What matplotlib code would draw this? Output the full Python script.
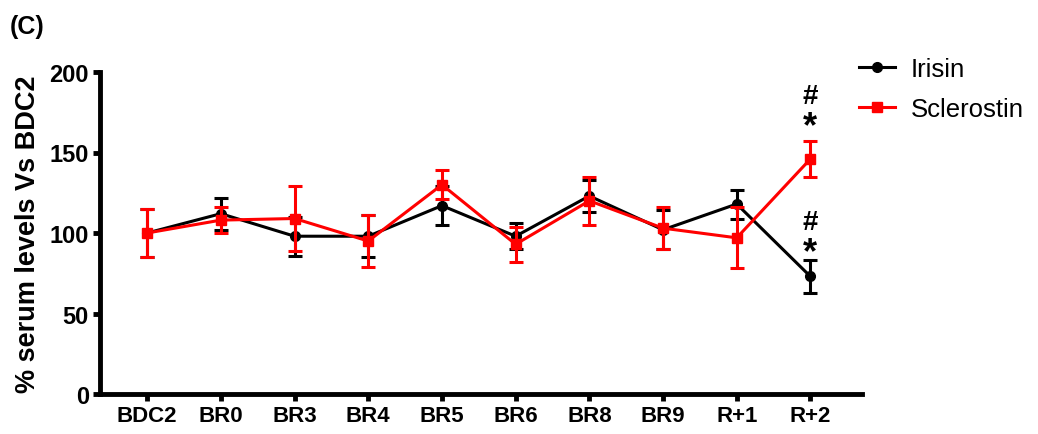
import numpy as np
import matplotlib
matplotlib.use('Agg')
import matplotlib.pyplot as plt
from matplotlib.lines import Line2D

plt.rcParams['font.family'] = ['Liberation Sans', 'DejaVu Sans']

days = ['BDC2', 'BR0', 'BR3', 'BR4', 'BR5', 'BR6', 'BR8', 'BR9', 'R+1', 'R+2']

irisin = [100, 112, 98, 98, 117, 98, 123, 102, 118, 73]
irisin_err = [15, 10, 12, 13, 12, 8, 10, 12, 9, 10]

scler = [100, 108, 109, 95, 130, 93, 120, 103, 97, 146]
scler_err = [15, 8, 20, 16, 9, 11, 15, 13, 19, 11]

# significance marks over R+2 (text, y position, size)
marks = [('#', 185, 20), ('*', 166, 26), ('#', 107, 20), ('*', 88, 26)]

x = np.arange(len(days))

fig = plt.figure(figsize=(10.38, 4.35), dpi=100)
ax = fig.add_axes([100/1038, 1-395/435, (862-100)/1038, (395-73)/435])

ax.errorbar(x, irisin, yerr=irisin_err, color='black', marker='o', ms=7,
            lw=2.2, elinewidth=2.2, capsize=5, capthick=2.2, zorder=3)
ax.errorbar(x, scler, yerr=scler_err, color='#ff0000', marker='s', ms=7.5,
            lw=2.2, elinewidth=2.2, capsize=5, capthick=2.2, zorder=4)

for t, yy, fs in marks:
    ax.text(x[-1], yy, t, ha='center', va='center', fontsize=fs, fontweight='bold')

ax.set_xlim(-0.64, 9.7)
ax.set_ylim(0, 200)
ax.set_yticks([0, 50, 100, 150, 200])
ax.set_xticks(x)
ax.set_xticklabels(days)

for s in ['top', 'right']:
    ax.spines[s].set_visible(False)
for s in ['left', 'bottom']:
    ax.spines[s].set_linewidth(3.5)

ax.tick_params(axis='both', direction='out', length=5, width=3.5)
ax.tick_params(axis='x', labelsize=16, pad=3)
ax.tick_params(axis='y', labelsize=17, pad=3)
for lab in ax.get_xticklabels() + ax.get_yticklabels():
    lab.set_fontweight('bold')

ax.set_ylabel('% serum levels Vs BDC2', fontsize=19.5, fontweight='bold', labelpad=6)

fig.text(10/1038, 1-34/435, '(C)', fontsize=18, fontweight='bold')

handles = [Line2D([], [], color='black', marker='o', ms=7, lw=2.2),
           Line2D([], [], color='#ff0000', marker='s', ms=7.5, lw=2.2)]
ax.legend(handles, ['Irisin', 'Sclerostin'], loc='upper left',
          bbox_to_anchor=(836/1038, 1-35/435), bbox_transform=fig.transFigure,
          frameon=False, fontsize=18.5, handlelength=1.4, handletextpad=0.6,
          labelspacing=0.6)

fig.savefig('out.png', dpi=100)
